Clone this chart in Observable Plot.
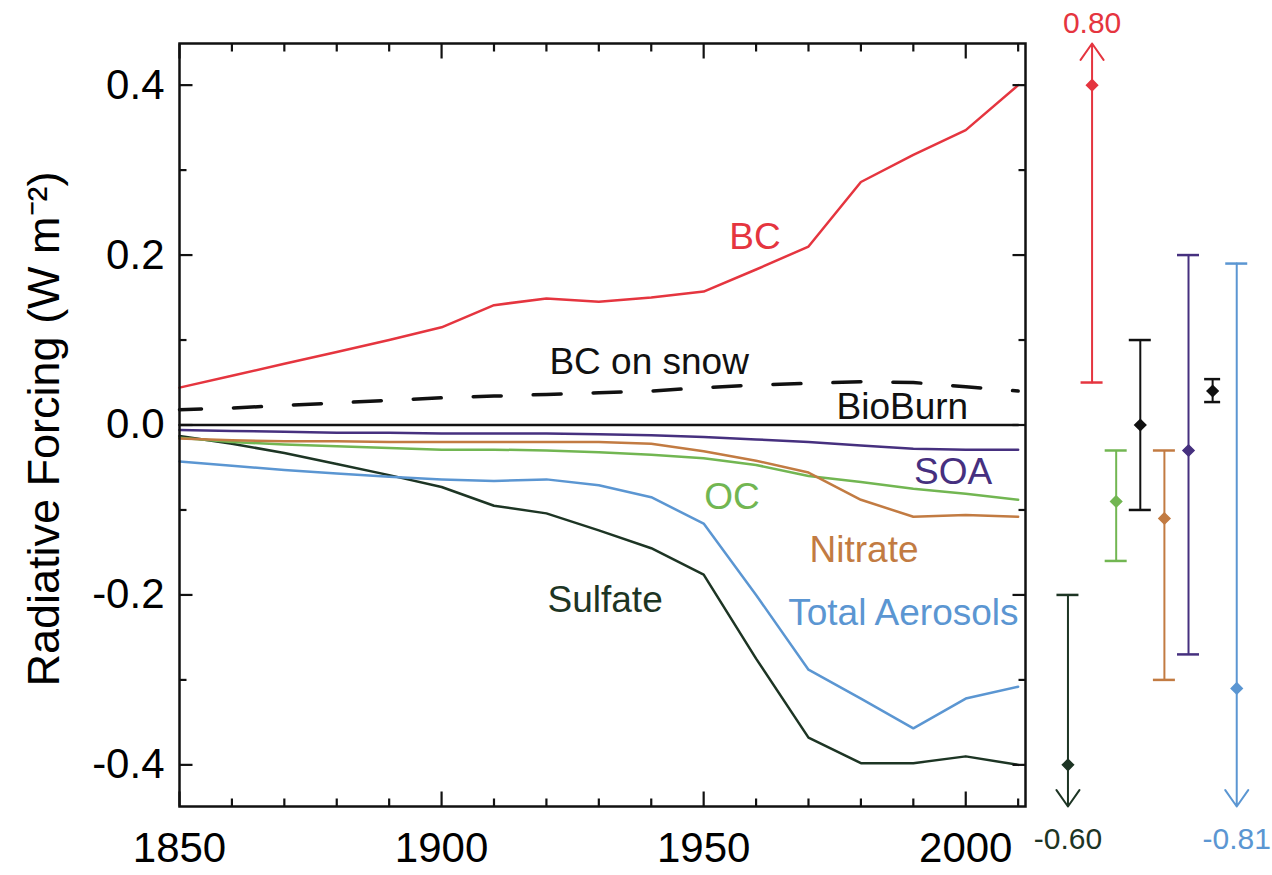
<!DOCTYPE html>
<html>
<head>
<meta charset="utf-8">
<script src="https://cdn.jsdelivr.net/npm/d3@7"></script>
<script src="https://cdn.jsdelivr.net/npm/@observablehq/plot@0.6"></script>
<style>
  html, body { margin: 0; padding: 0; background: #fff; }
  #chart svg { display: block; }
</style>
</head>
<body>
<div id="chart"></div>
<script>
// Aerosol radiative forcing, 1850–2010, with present-day uncertainty ranges at right.

// ---- time series (W m-2) ----
const years = [1850, 1860, 1870, 1880, 1890, 1900, 1910, 1920, 1930, 1940, 1950, 1960, 1970, 1980, 1990, 2000, 2010];
const bc      = [0.044, 0.058, 0.072, 0.086, 0.100, 0.115, 0.141, 0.149, 0.145, 0.150, 0.157, 0.183, 0.210, 0.286, 0.318, 0.347, 0.400];
const bcSnow  = [0.018, 0.020, 0.023, 0.026, 0.029, 0.032, 0.034, 0.036, 0.038, 0.040, 0.044, 0.047, 0.049, 0.051, 0.050, 0.045, 0.040];
const bioBurn = [0.000, 0.000, 0.000, 0.000, 0.000, 0.000, 0.000, 0.000, 0.000, 0.000, 0.000, 0.000, 0.000, 0.000, 0.000, 0.000, 0.000];
const soa     = [-0.006, -0.007, -0.008, -0.009, -0.009, -0.010, -0.010, -0.010, -0.011, -0.012, -0.014, -0.017, -0.020, -0.024, -0.028, -0.029, -0.029];
const nitrate = [-0.016, -0.018, -0.019, -0.019, -0.020, -0.020, -0.020, -0.020, -0.020, -0.022, -0.031, -0.042, -0.056, -0.088, -0.108, -0.106, -0.108];
const oc      = [-0.015, -0.020, -0.023, -0.025, -0.027, -0.029, -0.029, -0.030, -0.032, -0.035, -0.039, -0.047, -0.060, -0.067, -0.075, -0.081, -0.088];
const sulfate = [-0.013, -0.022, -0.033, -0.046, -0.059, -0.073, -0.095, -0.104, -0.124, -0.145, -0.176, -0.275, -0.368, -0.398, -0.398, -0.390, -0.400];
const total   = [-0.043, -0.048, -0.053, -0.057, -0.061, -0.064, -0.066, -0.064, -0.071, -0.085, -0.116, -0.200, -0.288, -0.322, -0.357, -0.322, -0.308];

// ---- present-day best estimates and ranges (W m-2) ----
const rangeNames = ["Sulfate", "BC", "OC", "BioBurn", "Nitrate", "SOA", "BC on snow", "Total Aerosols"];
const rangeBest  = [-0.40, 0.40, -0.09, 0.00, -0.11, -0.03, 0.040, -0.31];
const rangeLow   = [-0.60, 0.05, -0.16, -0.10, -0.30, -0.27, 0.027, -0.81];
const rangeHigh  = [-0.20, 0.80, -0.03, 0.10, -0.03, 0.20, 0.054, 0.19];

// ---- axis ticks ----
const xTicks = [1850, 1900, 1950, 2000];
const yTicks = [-0.4, -0.2, 0.0, 0.2, 0.4];
const xMinorTicks = [1860, 1870, 1880, 1890, 1910, 1920, 1930, 1940, 1960, 1970, 1980, 1990, 2010];
const yMinorTicks = [-0.3, -0.1, 0.1, 0.3];

// ---- styling ----
const colors = {
  "BC": "#e5353f",
  "BC on snow": "#111111",
  "BioBurn": "#111111",
  "SOA": "#46307f",
  "Nitrate": "#c27b42",
  "OC": "#72b652",
  "Sulfate": "#1d3524",
  "Total Aerosols": "#5b96d2"
};
const series = [
  {name: "Sulfate", values: sulfate},
  {name: "Total Aerosols", values: total},
  {name: "OC", values: oc},
  {name: "Nitrate", values: nitrate},
  {name: "SOA", values: soa},
  {name: "BC", values: bc},
  {name: "BC on snow", values: bcSnow, dashed: true},
  {name: "BioBurn", values: bioBurn}
];

// in-plot series labels (year, forcing)
const labels = [
  {text: "BC", year: 1959.8, value: 0.221},
  {text: "BC on snow", year: 1939.6, value: 0.074},
  {text: "BioBurn", year: 1987.9, value: 0.021},
  {text: "SOA", year: 1997.6, value: -0.055},
  {text: "OC", year: 1955.4, value: -0.085},
  {text: "Nitrate", year: 1980.6, value: -0.147},
  {text: "Sulfate", year: 1931.2, value: -0.206},
  {text: "Total Aerosols", year: 1988.1, value: -0.221}
];

// ---- layout ----
const W = 1272, H = 875;
const M = {top: 43, right: 247, bottom: 69, left: 179};
const xDomain = [1850, 2011.4];
const yDomain = [-0.449, 0.449];
const xPerPx = (xDomain[1] - xDomain[0]) / (W - M.left - M.right);
const yPerPx = (yDomain[1] - yDomain[0]) / (H - M.top - M.bottom);

// columns for the uncertainty bars, right of the plot frame
const barX = i => 2019.5 + 4.6 * i;

const rows = series.flatMap(s => years.map((year, i) => ({name: s.name, year, value: s.values[i]})));

const ranges = rangeNames.map((name, i) => ({
  name, x: barX(i), color: colors[name],
  best: rangeBest[i], low: rangeLow[i], high: rangeHigh[i],
  lowIn: rangeLow[i] >= yDomain[0], highIn: rangeHigh[i] <= yDomain[1],
  capHalf: (name === "BC on snow" ? 8 : 11) * xPerPx
}));
const inRange = ranges.filter(r => r.lowIn && r.highIn);
const upArrows = ranges.filter(r => !r.highIn);
const downArrows = ranges.filter(r => !r.lowIn);
const caps = ranges.flatMap(r => [
  ...(r.lowIn ? [{...r, y: r.low}] : []),
  ...(r.highIn ? [{...r, y: r.high}] : [])
]);

// inward tick segments on all four sides of the frame
const xTickLen = [...xTicks.map(v => ({v, len: 15})), ...xMinorTicks.map(v => ({v, len: 8}))];
const yTickLen = [...yTicks.map(v => ({v, len: 13})), ...yMinorTicks.map(v => ({v, len: 7}))];
const tickSegments = [
  ...xTickLen.map(t => ({x1: t.v, x2: t.v, y1: yDomain[0], y2: yDomain[0] + t.len * yPerPx})),
  ...xTickLen.map(t => ({x1: t.v, x2: t.v, y1: yDomain[1], y2: yDomain[1] - t.len * yPerPx})),
  ...yTickLen.map(t => ({y1: t.v, y2: t.v, x1: xDomain[0], x2: xDomain[0] + t.len * xPerPx})),
  ...yTickLen.map(t => ({y1: t.v, y2: t.v, x1: xDomain[1], x2: xDomain[1] - t.len * xPerPx}))
];

const font = "'Liberation Sans', Arial, Helvetica, sans-serif";

const chart = Plot.plot({
  width: W,
  height: H,
  marginTop: M.top,
  marginRight: M.right,
  marginBottom: M.bottom,
  marginLeft: M.left,
  x: {domain: xDomain},
  y: {domain: yDomain},
  style: {fontFamily: font, background: "#fff", color: "#000"},
  marks: [
    // series lines
    ...series.map(s => Plot.line(rows.filter(d => d.name === s.name), {
      x: "year", y: "value",
      stroke: colors[s.name],
      strokeWidth: s.dashed ? 3.5 : 2.5,
      strokeDasharray: s.dashed ? "28,32" : null,
      strokeDashoffset: s.dashed ? 6 : null,
      curve: "linear"
    })),

    // frame and inward ticks
    Plot.frame({stroke: "#111", strokeWidth: 2.5}),
    Plot.link(tickSegments, {x1: "x1", y1: "y1", x2: "x2", y2: "y2", stroke: "#111", strokeWidth: 2.2}),

    // tick labels
    Plot.axisX(xTicks, {tickSize: 0, tickPadding: 26, fontSize: 42, tickFormat: d => String(d), label: null}),
    Plot.axisY(yTicks, {tickSize: 0, tickPadding: 15, fontSize: 42, tickFormat: d => d.toFixed(1), label: null}),

    // y axis title
    Plot.text(["Radiative Forcing (W m\u207B\u00B2)"], {
      frameAnchor: "left", textAnchor: "middle", lineAnchor: "middle",
      dx: -135, dy: 4, rotate: -90, fontSize: 45, fill: "#000"
    }),

    // series labels
    Plot.text(labels, {
      x: "year", y: "value", text: "text",
      fill: d => colors[d.text], fontSize: 37, lineAnchor: "middle"
    }),

    // uncertainty bars
    Plot.ruleX(inRange, {x: "x", y1: "low", y2: "high", stroke: "color", strokeWidth: 2}),
    Plot.arrow(upArrows, {
      x1: "x", x2: "x", y1: "low", y2: yDomain[1],
      stroke: "color", strokeWidth: 2, headLength: 15, headAngle: 70
    }),
    Plot.arrow(downArrows, {
      x1: "x", x2: "x", y1: "high", y2: yDomain[0],
      stroke: "color", strokeWidth: 2, headLength: 15, headAngle: 70
    }),
    Plot.ruleY(caps, {y: "y", x1: d => d.x - d.capHalf, x2: d => d.x + d.capHalf, stroke: "color", strokeWidth: 2.5}),
    Plot.dot(ranges, {x: "x", y: "best", symbol: "diamond2", r: 5, fill: "color", stroke: "color"}),

    // values of the off-scale range ends
    Plot.text(upArrows, {x: "x", text: d => d.high.toFixed(2), frameAnchor: "top", lineAnchor: "middle", dy: -20, fill: "color", fontSize: 30}),
    Plot.text(downArrows, {x: "x", text: d => d.low.toFixed(2), frameAnchor: "bottom", lineAnchor: "middle", dy: 33, fill: "color", fontSize: 30})
  ]
});

document.getElementById("chart").append(chart);
</script>
</body>
</html>
